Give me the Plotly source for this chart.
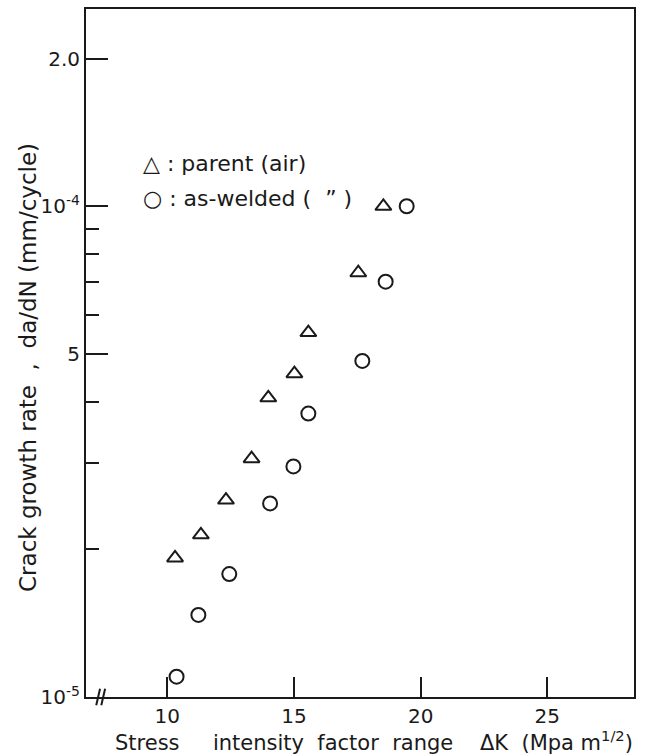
import plotly.graph_objects as go

# Crack growth data: stress intensity factor range (MPa m^1/2) vs da/dN (mm/cycle)
parent_dk = [10.31, 11.33, 12.32, 13.33, 13.99, 15.02, 15.57, 17.54, 18.53]
parent_rate = [1.92e-5, 2.14e-5, 2.52e-5, 3.06e-5, 4.07e-5, 4.56e-5, 5.53e-5, 7.32e-5, 1.00e-4]

welded_dk = [10.37, 11.23, 12.45, 14.06, 14.98, 15.57, 17.70, 18.62, 19.45]
welded_rate = [1.10e-5, 1.47e-5, 1.78e-5, 2.48e-5, 2.95e-5, 3.78e-5, 4.84e-5, 7.02e-5, 1.00e-4]

x_tickvals = [10, 15, 20, 25]
y_tickvals = [1e-5, 5e-5, 1e-4, 2e-4]
y_ticktext = ["10<sup>-5</sup>", "5", "10<sup>-4</sup>", "2.0"]
y_minor = [2e-5, 3e-5, 4e-5, 6e-5, 7e-5, 8e-5, 9e-5]

FONT = "'DejaVu Sans', Verdana, sans-serif"
INK = "#1a1a1a"
NB = "\u00a0"

# plot-area geometry in pixels
W, H = 655, 755
ML, MR, MT, MB = 86, 21, 7, 58
PW, PH = W - ML - MR, H - MT - MB


def px_x(px):
    return (px - ML) / PW


def px_y(py):
    return (H - MB - py) / PH


fig = go.Figure()
fig.add_trace(go.Scatter(
    x=parent_dk, y=parent_rate, mode="markers", name="parent (air)",
    marker=dict(symbol="triangle-up-open", size=14, color=INK, line=dict(width=2)),
))
fig.add_trace(go.Scatter(
    x=welded_dk, y=welded_rate, mode="markers", name="as-welded",
    marker=dict(symbol="circle-open", size=14, color=INK, line=dict(width=2)),
))

fig.update_layout(
    width=W, height=H,
    margin=dict(l=ML, r=MR, t=MT, b=MB),
    paper_bgcolor="white", plot_bgcolor="white",
    showlegend=False,
    font=dict(family=FONT, size=20, color=INK),
)
fig.update_xaxes(
    range=[6.796, 28.42], showgrid=False, zeroline=False,
    showline=True, linecolor=INK, linewidth=2, mirror=True,
    ticks="inside", ticklen=20, tickwidth=2, tickcolor=INK,
    tickvals=x_tickvals, ticktext=[str(v) for v in x_tickvals],
    tickfont=dict(size=20),
)
fig.update_yaxes(
    type="log", range=[-5, -3.598], showgrid=False, zeroline=False,
    showline=True, linecolor=INK, linewidth=2, mirror=True,
    ticks="inside", ticklen=22, tickwidth=2, tickcolor=INK,
    tickvals=y_tickvals, ticktext=y_ticktext, tickfont=dict(size=20),
    minor=dict(tickvals=y_minor, ticks="inside", ticklen=13, tickwidth=2,
               tickcolor=INK, showgrid=False),
)

# in-plot key
fig.add_annotation(x=px_x(141), y=px_y(162), xref="paper", yref="paper",
                   xanchor="left", yanchor="middle", showarrow=False,
                   text=f"\u25b3{NB}:{NB}parent{NB}(air)", font=dict(size=22))
fig.add_annotation(x=px_x(141), y=px_y(197), xref="paper", yref="paper",
                   xanchor="left", yanchor="middle", showarrow=False,
                   text=f"\u25cb{NB}:{NB}as-welded{NB}({NB}{NB}\u201d{NB})",
                   font=dict(size=22))

# axis titles
x_title = (f"Stress{NB}{NB}{NB}{NB}{NB}intensity{NB}{NB}factor{NB}{NB}range{NB}{NB}{NB}{NB}"
           f"\u0394K{NB}{NB}(Mpa{NB}m<sup>1/2</sup>)")
fig.add_annotation(x=px_x(113), y=px_y(741), xref="paper", yref="paper",
                   xanchor="left", yanchor="middle", showarrow=False,
                   text=x_title, font=dict(size=21))
fig.add_annotation(x=px_x(28), y=px_y(367), xref="paper", yref="paper",
                   xanchor="center", yanchor="middle", showarrow=False,
                   textangle=-90,
                   text=f"Crack{NB}growth{NB}rate{NB}{NB},{NB}{NB}da/dN{NB}(mm/cycle)",
                   font=dict(size=23))

# axis-break mark on the x axis
fig.add_shape(type="path", xref="x", yref="paper",
              path="M 7.2 -0.012 L 7.35 0.012 M 7.4 -0.012 L 7.55 0.012",
              line=dict(color=INK, width=2))

fig.write_html("out.html")
